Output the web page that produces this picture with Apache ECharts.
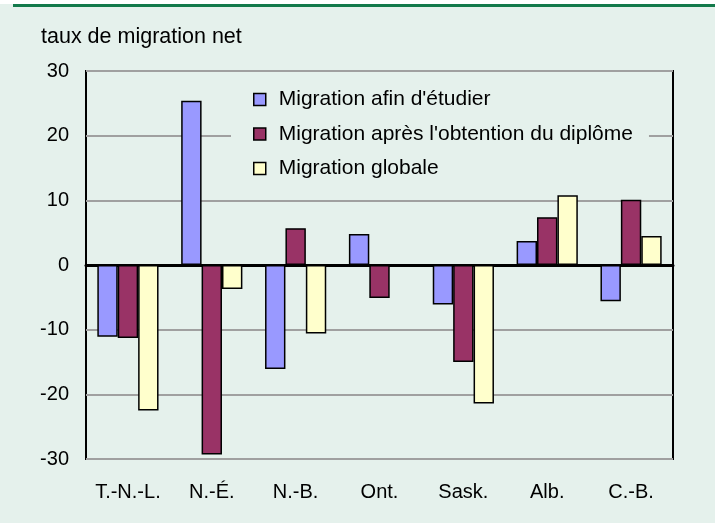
<!DOCTYPE html>
<html>
<head>
<meta charset="utf-8">
<script src="https://cdn.jsdelivr.net/npm/echarts@6/dist/echarts.min.js"></script>
<style>
  html, body { margin: 0; padding: 0; background: #fff; }
  #chart { width: 715px; height: 523px; }
</style>
</head>
<body>
<div id="chart"></div>
<script>
var categories = ['T.-N.-L.', 'N.-É.', 'N.-B.', 'Ont.', 'Sask.', 'Alb.', 'C.-B.'];
var seriesNames = ["Migration afin d'étudier", "Migration après l'obtention du diplôme", 'Migration globale'];
var etudier = [-11.1, 25.4, -16.1, 4.8, -6.1, 3.7, -5.6];
var apresDiplome = [-11.3, -29.3, 5.7, -5.1, -15.0, 7.4, 10.1];
var globale = [-22.5, -3.7, -10.6, -0.3, -21.4, 10.8, 4.5];
var colors = ['#9999ff', '#993366', '#ffffcc'];

var font = "'Liberation Sans', Arial, sans-serif";
var bg = '#e5f1ec';

var chart = echarts.init(document.getElementById('chart'));

function bar(name, data, color) {
    return {
        name: name,
        type: 'bar',
        xAxisIndex: 0,
        data: data,
        barGap: '0%',
        barCategoryGap: '27%',
        itemStyle: { color: color, borderColor: '#000', borderWidth: 1.5 }
    };
}

chart.setOption({
    backgroundColor: bg,
    animation: false,
    textStyle: { fontFamily: font },
    title: {
        text: 'taux de migration net',
        left: 41,
        top: 26,
        padding: 0,
        textStyle: { fontFamily: font, fontSize: 21.5, fontWeight: 'normal', color: '#000' }
    },
    graphic: [{
        type: 'rect',
        shape: { x: 0, y: 0, width: 715, height: 4 },
        style: { fill: '#fff' }
    }, {
        type: 'rect',
        shape: { x: 13, y: 4, width: 702, height: 3 },
        style: { fill: '#137a4b' }
    }],
    legend: {
        orient: 'vertical',
        left: 231,
        top: 81,
        padding: [8, 16, 8, 22],
        backgroundColor: bg,
        icon: 'rect',
        itemWidth: 12,
        itemHeight: 12,
        itemGap: 13.5,
        itemStyle: { borderColor: '#000', borderWidth: 1.5 },
        textStyle: { fontFamily: font, fontSize: 21, color: '#000', lineHeight: 21, padding: [0, 0, 0, 8] },
        data: seriesNames
    },
    grid: {
        left: 86,
        right: 42,
        top: 71,
        bottom: 64,
        show: true,
        borderColor: '#000',
        borderWidth: 2,
        backgroundColor: bg,
        containLabel: false
    },
    xAxis: [{
        type: 'category',
        data: categories,
        position: 'bottom',
        axisLine: { show: false, onZero: false },
        axisTick: { show: false },
        axisLabel: { interval: 0, fontFamily: font, fontSize: 20, color: '#000', margin: 23 }
    }, {
        type: 'category',
        data: categories,
        axisLine: { show: true, onZero: true, lineStyle: { color: '#000', width: 3 } },
        axisTick: { show: false },
        axisLabel: { show: false }
    }],
    yAxis: {
        type: 'value',
        min: -30,
        max: 30,
        interval: 10,
        axisLine: { show: false },
        axisTick: { show: false },
        axisLabel: { fontFamily: font, fontSize: 20, color: '#000', margin: 17 },
        splitLine: { show: true, lineStyle: { color: '#a0a0a0', width: 2 } }
    },
    series: [
        bar(seriesNames[0], etudier, colors[0]),
        bar(seriesNames[1], apresDiplome, colors[1]),
        bar(seriesNames[2], globale, colors[2])
    ]
});
</script>
</body>
</html>
